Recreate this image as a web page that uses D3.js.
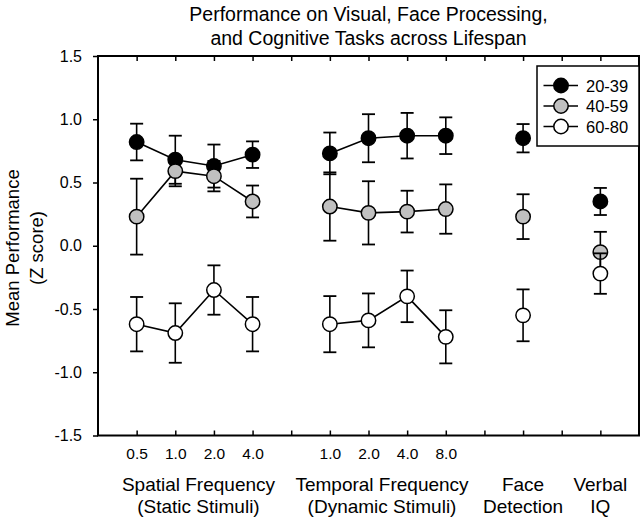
<!DOCTYPE html>
<html><head><meta charset="utf-8">
<script src="https://cdn.jsdelivr.net/npm/d3@7"></script>
<style>
html,body{margin:0;padding:0;background:#fff;}
svg{display:block;font-family:"Liberation Sans",Arial,Helvetica,sans-serif;}
</style></head>
<body>
<svg id="chart" width="640" height="519"></svg>
<script>
// ---- data ----
const tickLabels = ["0.5","1.0","2.0","4.0","1.0","2.0","4.0","8.0","",""];
const xIndex = [1,2,3,4,6,7,8,9,11,13];
const lineGroups = [[0,1,2,3],[4,5,6,7],[8],[9]];
const seriesNames = ["20-39","40-59","60-80"];
const seriesFill = ["#000000","#c0c0c0","#ffffff"];
const mean2039 = [0.82,0.68,0.63,0.72, 0.73,0.85,0.87,0.87, 0.85, 0.35];
const err2039  = [0.145,0.19,0.17,0.105, 0.165,0.19,0.18,0.145, 0.112, 0.107];
const mean4059 = [0.23,0.59,0.55,0.35, 0.31,0.26,0.27,0.29, 0.23, -0.05];
const err4059  = [0.30,0.12,0.12,0.126, 0.27,0.25,0.165,0.195, 0.177, 0.16];
const mean6080 = [-0.62,-0.69,-0.35,-0.62, -0.62,-0.59,-0.40,-0.72, -0.55, -0.22];
const err6080  = [0.215,0.235,0.195,0.215, 0.222,0.213,0.204,0.21, 0.205, 0.16];
const yTicks = [-1.5,-1.0,-0.5,0.0,0.5,1.0,1.5];
const groupLabels = [["Spatial Frequency","(Static Stimuli)"],["Temporal Frequency","(Dynamic Stimuli)"],["Face","Detection"],["Verbal","IQ"]];
const groupX = [2.6, 7.35, 11, 13];
const titleLines = ["Performance on Visual, Face Processing,","and Cognitive Tasks across Lifespan"];
const yLabelLines = ["Mean Performance","(Z score)"];

const series = [
  {name:seriesNames[0], fill:seriesFill[0], mean:mean2039, err:err2039},
  {name:seriesNames[1], fill:seriesFill[1], mean:mean4059, err:err4059},
  {name:seriesNames[2], fill:seriesFill[2], mean:mean6080, err:err6080}
];

// ---- layout ----
const L=98, R=639, T=56, B=435.5;
const x = d3.scaleLinear().domain([0,14]).range([L,R]);
const y = d3.scaleLinear().domain([-1.5,1.5]).range([B,T]);
const svg = d3.select("#chart");

// title
svg.append("text").attr("x",(L+R)/2).attr("y",21).attr("text-anchor","middle")
  .attr("font-size",19.5).text(titleLines[0]);
svg.append("text").attr("x",(L+R)/2).attr("y",45).attr("text-anchor","middle")
  .attr("font-size",19.5).text(titleLines[1]);

// y label
const yl = svg.append("g").attr("transform","translate(0,248) rotate(-90)");
yl.append("text").attr("x",0).attr("y",19).attr("text-anchor","middle").attr("font-size",18.5).text(yLabelLines[0]);
yl.append("text").attr("x",0).attr("y",43).attr("text-anchor","middle").attr("font-size",18.5).text(yLabelLines[1]);

// axes
const tickVals = d3.range(1,14);
const yAxis = d3.axisLeft(y).tickValues(yTicks).tickSize(5).tickPadding(11);
const gy = svg.append("g").attr("transform",`translate(${L},0)`).call(yAxis);
gy.select(".domain").remove();
gy.selectAll("line").attr("stroke","#000").attr("stroke-width",1.5);
gy.selectAll("text").attr("font-size",16).attr("font-family","Liberation Sans, Arial, sans-serif")
  .text(d=> d<0 ? "-"+d3.format(".1f")(-d) : d3.format(".1f")(d));

const labelMap = new Map(xIndex.map((v,i)=>[v,tickLabels[i]]));
const xAxisB = d3.axisBottom(x).tickValues(tickVals).tickSize(-5).tickPadding(12)
  .tickFormat(d=>labelMap.get(d)||"");
const gxb = svg.append("g").attr("transform",`translate(0,${B})`).call(xAxisB);
gxb.select(".domain").remove();
gxb.selectAll("line").attr("stroke","#000").attr("stroke-width",1.5);
gxb.selectAll("text").attr("font-size",15.5).attr("font-family","Liberation Sans, Arial, sans-serif");

const xAxisT = d3.axisTop(x).tickValues(tickVals).tickSize(-5).tickFormat("");
const gxt = svg.append("g").attr("transform",`translate(0,${T})`).call(xAxisT);
gxt.select(".domain").remove();
gxt.selectAll("line").attr("stroke","#000").attr("stroke-width",1.5);

// frame
svg.append("rect").attr("x",L).attr("y",T).attr("width",R-L).attr("height",B-T)
  .attr("fill","none").attr("stroke","#000").attr("stroke-width",2);

// group labels
groupLabels.forEach((lines,i)=>{
  svg.append("text").attr("x",x(groupX[i])).attr("y",491).attr("text-anchor","middle").attr("font-size",19).text(lines[0]);
  svg.append("text").attr("x",x(groupX[i])).attr("y",513).attr("text-anchor","middle").attr("font-size",19).text(lines[1]);
});

// series
const line = d3.line().x(i=>x(xIndex[i]));
const capW = 6.5, r = 7.2;
series.forEach(s=>{
  const g = svg.append("g");
  lineGroups.forEach(grp=>{
    if(grp.length>1){
      g.append("path").attr("d", line.y(i=>y(s.mean[i]))(grp))
        .attr("fill","none").attr("stroke","#000").attr("stroke-width",1.6);
    }
  });
  s.mean.forEach((m,i)=>{
    const cx = x(xIndex[i]), y1 = y(m+s.err[i]), y0 = y(m-s.err[i]);
    g.append("line").attr("x1",cx).attr("x2",cx).attr("y1",y1).attr("y2",y0).attr("stroke","#000").attr("stroke-width",1.6);
    g.append("line").attr("x1",cx-capW).attr("x2",cx+capW).attr("y1",y1).attr("y2",y1).attr("stroke","#000").attr("stroke-width",1.8);
    g.append("line").attr("x1",cx-capW).attr("x2",cx+capW).attr("y1",y0).attr("y2",y0).attr("stroke","#000").attr("stroke-width",1.8);
  });
  g.selectAll("circle").data(s.mean).join("circle")
    .attr("cx",(m,i)=>x(xIndex[i])).attr("cy",m=>y(m)).attr("r",r)
    .attr("fill",s.fill).attr("stroke","#000").attr("stroke-width",1.5);
});

// legend
const lg = svg.append("g");
lg.append("rect").attr("x",537).attr("y",66).attr("width",R-537).attr("height",80)
  .attr("fill","#fff").attr("stroke","#000").attr("stroke-width",1.5);
series.forEach((s,i)=>{
  const ly = 85.5 + i*20.5;
  lg.append("line").attr("x1",543.5).attr("x2",578).attr("y1",ly).attr("y2",ly).attr("stroke","#000").attr("stroke-width",1.6);
  lg.append("circle").attr("cx",561).attr("cy",ly).attr("r",r).attr("fill",s.fill).attr("stroke","#000").attr("stroke-width",1.5);
  lg.append("text").attr("x",586).attr("y",ly+6).attr("font-size",16.5).text(s.name);
});
</script>
</body></html>
